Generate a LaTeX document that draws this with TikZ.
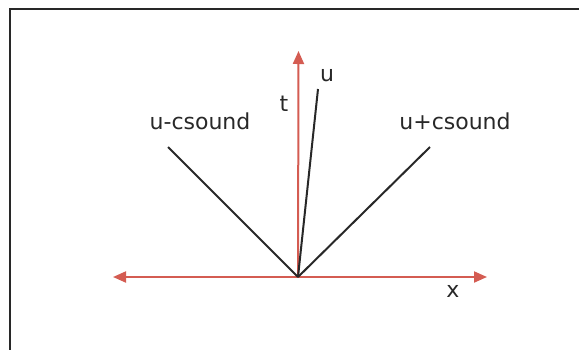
\documentclass[tikz,border=0pt]{standalone}
\usepackage{fontspec}
\setmainfont{DejaVu Sans}
\usetikzlibrary{arrows.meta}
\definecolor{axisred}{RGB}{212,92,82}
\definecolor{linegray}{RGB}{40,40,40}
\tikzset{
  axis/.style={draw=axisred, line width=2pt, -{Triangle[length=13pt,width=11pt]}},
  char/.style={draw=linegray, line width=2pt},
  lbl/.style={font=\fontsize{22}{26}\selectfont, text=linegray, inner sep=0pt},
  frame/.style={draw=linegray, line width=2pt}
}
\begin{document}
\begin{tikzpicture}[x=1pt,y=-1pt]
\useasboundingbox (0,0) rectangle (579,349);
\begin{scope}
\clip (0,0) rectangle (579,349);
\coordinate (fb) at (10,360);
\coordinate (ftl) at (10,9);
\coordinate (ftr) at (590,9);
\draw[frame] (fb) -- (ftl) -- (ftr);
\end{scope}
\coordinate (O) at (298,277);
\coordinate (xl) at (113,277);
\coordinate (xr) at (487,277);
\coordinate (ttop) at (298.5,51);
\coordinate (utop) at (318,89);
\coordinate (ml) at (168,147);
\coordinate (mr) at (430,147);
\draw[axis] (O) -- (xl);
\draw[axis] (O) -- (xr);
\draw[axis] (O) -- (ttop);
\draw[char] (O) -- (utop);
\draw[char] (O) -- (ml);
\draw[char] (O) -- (mr);
\node[lbl] (lt) at (284,104) {t};
\node[lbl] (lu) at (327,75) {u};
\node[lbl] (lum) at (200,121) {u-csound};
\node[lbl] (lup) at (455,121) {u+csound};
\node[lbl] (lx) at (453,291) {x};
\end{tikzpicture}
\end{document}
